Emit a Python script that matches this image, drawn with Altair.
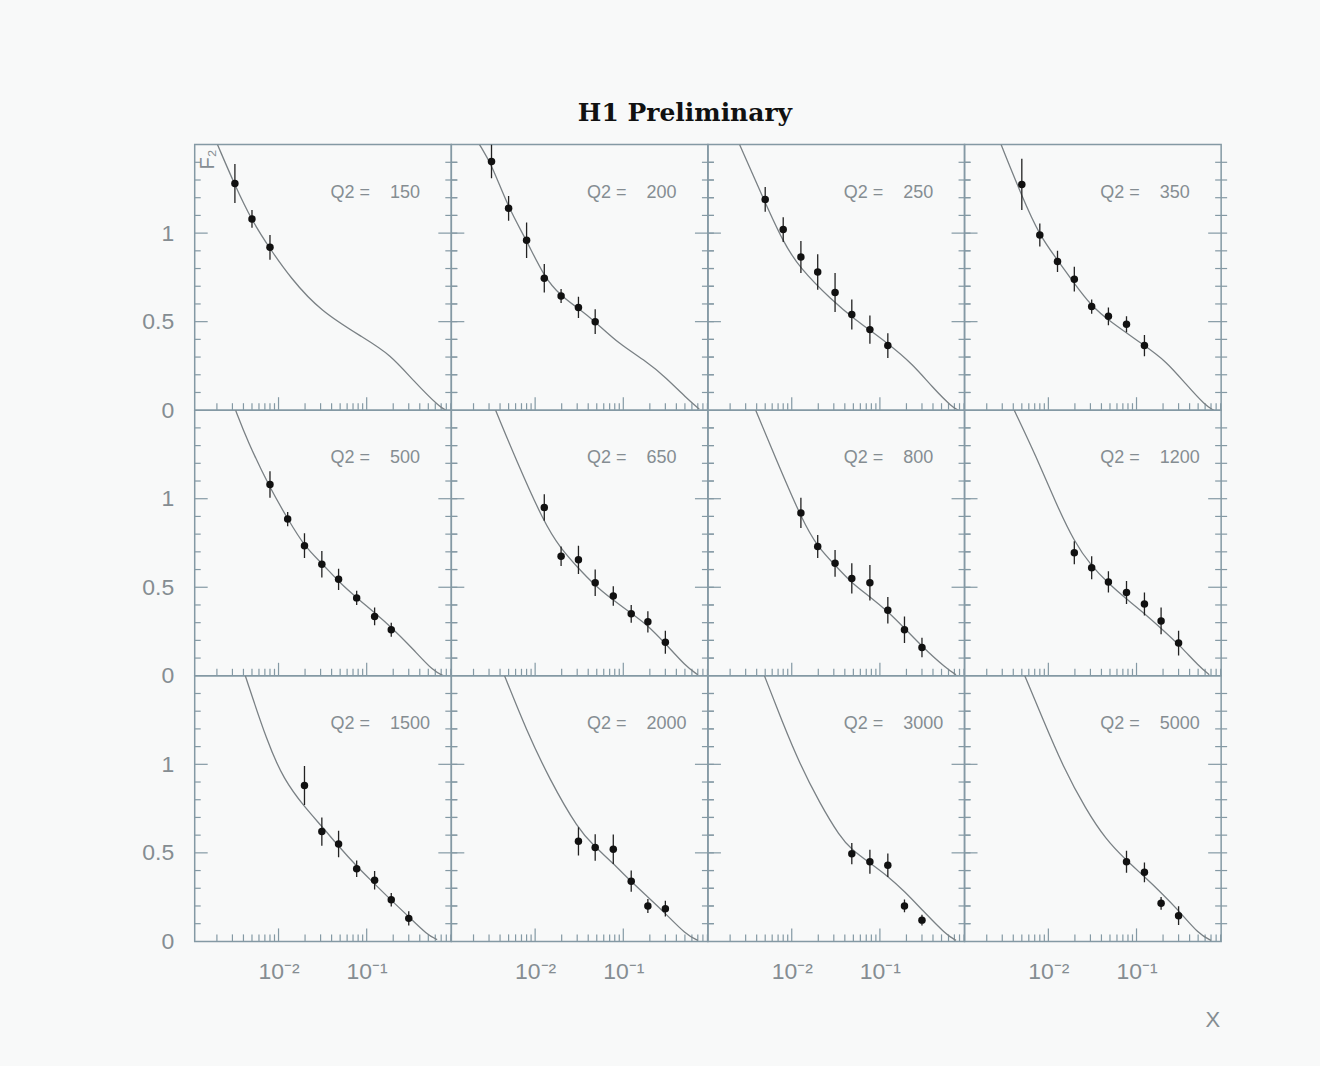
import altair as alt
import pandas as pd

# ---------------------------------------------------------------------------
# H1 preliminary F2(x) at high Q2: measured points and QCD fit curves
# ---------------------------------------------------------------------------
Q2_VALUES = [150, 200, 250, 350, 500, 650, 800, 1200, 1500, 2000, 3000, 5000]

# measured points: x, F2, total error
X_150 = [0.0032, 0.005, 0.008]
F2_150 = [1.28, 1.08, 0.92]
ERR_150 = [0.11, 0.05, 0.07]

X_200 = [0.0032, 0.005, 0.008, 0.0127, 0.0197, 0.031, 0.048]
F2_200 = [1.405, 1.14, 0.96, 0.745, 0.645, 0.58, 0.50]
ERR_200 = [0.095, 0.07, 0.10, 0.08, 0.04, 0.06, 0.07]

X_250 = [0.005, 0.008, 0.0127, 0.0197, 0.031, 0.048, 0.077, 0.123]
F2_250 = [1.19, 1.02, 0.865, 0.78, 0.665, 0.54, 0.455, 0.365]
ERR_250 = [0.07, 0.07, 0.09, 0.10, 0.11, 0.085, 0.08, 0.07]

X_350 = [0.005, 0.008, 0.0127, 0.0197, 0.031, 0.048, 0.077, 0.123]
F2_350 = [1.275, 0.99, 0.84, 0.74, 0.585, 0.53, 0.485, 0.365]
ERR_350 = [0.145, 0.065, 0.06, 0.07, 0.04, 0.05, 0.045, 0.06]

X_500 = [0.008, 0.0127, 0.0197, 0.031, 0.048, 0.077, 0.123, 0.19]
F2_500 = [1.08, 0.885, 0.735, 0.63, 0.545, 0.44, 0.335, 0.26]
ERR_500 = [0.075, 0.04, 0.07, 0.075, 0.06, 0.04, 0.05, 0.04]

X_650 = [0.0127, 0.0197, 0.031, 0.048, 0.077, 0.123, 0.19, 0.30]
F2_650 = [0.95, 0.675, 0.655, 0.525, 0.45, 0.35, 0.305, 0.19]
ERR_650 = [0.075, 0.055, 0.08, 0.075, 0.055, 0.05, 0.06, 0.065]

X_800 = [0.0127, 0.0197, 0.031, 0.048, 0.077, 0.123, 0.19, 0.30]
F2_800 = [0.92, 0.73, 0.635, 0.55, 0.525, 0.37, 0.26, 0.16]
ERR_800 = [0.085, 0.065, 0.075, 0.085, 0.10, 0.075, 0.075, 0.055]

X_1200 = [0.0197, 0.031, 0.048, 0.077, 0.123, 0.19, 0.30]
F2_1200 = [0.695, 0.61, 0.53, 0.47, 0.405, 0.31, 0.185]
ERR_1200 = [0.065, 0.065, 0.06, 0.065, 0.065, 0.075, 0.07]

X_1500 = [0.0197, 0.031, 0.048, 0.077, 0.123, 0.19, 0.30]
F2_1500 = [0.88, 0.62, 0.55, 0.41, 0.345, 0.235, 0.13]
ERR_1500 = [0.11, 0.08, 0.075, 0.047, 0.052, 0.038, 0.04]

X_2000 = [0.031, 0.048, 0.077, 0.123, 0.19, 0.30]
F2_2000 = [0.565, 0.53, 0.52, 0.34, 0.20, 0.185]
ERR_2000 = [0.08, 0.075, 0.083, 0.06, 0.04, 0.044]

X_3000 = [0.048, 0.077, 0.123, 0.19, 0.30]
F2_3000 = [0.495, 0.45, 0.43, 0.20, 0.12]
ERR_3000 = [0.06, 0.068, 0.066, 0.036, 0.03]

X_5000 = [0.077, 0.123, 0.19, 0.30]
F2_5000 = [0.45, 0.39, 0.215, 0.145]
ERR_5000 = [0.062, 0.056, 0.036, 0.053]

# QCD fit curve samples: x, F2
FIT_X_150 = [0.00203, 0.0032, 0.005, 0.0078, 0.0137, 0.030, 0.093, 0.186, 0.341, 0.685, 0.80]
FIT_F2_150 = [1.50, 1.27, 1.07, 0.92, 0.746, 0.558, 0.408, 0.314, 0.164, 0.013, 0.0]

FIT_X_200 = [0.00234, 0.0032, 0.005, 0.008, 0.0127, 0.0197, 0.031, 0.048, 0.0904, 0.181, 0.305, 0.514, 0.728]
FIT_F2_200 = [1.50, 1.39, 1.14, 0.96, 0.75, 0.645, 0.575, 0.50, 0.372, 0.278, 0.184, 0.071, 0.006]

FIT_X_250 = [0.00256, 0.005, 0.0079, 0.0122, 0.0292, 0.049, 0.128, 0.235, 0.397, 0.668, 0.78]
FIT_F2_250 = [1.50, 1.171, 0.955, 0.804, 0.616, 0.522, 0.372, 0.26, 0.128, 0.015, 0.0]

FIT_X_350 = [0.00291, 0.005, 0.008, 0.013, 0.0194, 0.031, 0.049, 0.122, 0.215, 0.363, 0.61, 0.75]
FIT_F2_350 = [1.50, 1.209, 0.983, 0.842, 0.72, 0.587, 0.504, 0.367, 0.278, 0.147, 0.024, 0.0]

FIT_X_500 = [0.00326, 0.0044, 0.008, 0.0127, 0.0197, 0.031, 0.048, 0.077, 0.19, 0.341, 0.575, 0.75]
FIT_F2_500 = [1.50, 1.331, 1.059, 0.887, 0.73, 0.636, 0.532, 0.44, 0.278, 0.147, 0.024, 0.0]

FIT_X_650 = [0.00356, 0.0061, 0.0126, 0.0194, 0.031, 0.047, 0.076, 0.122, 0.187, 0.298, 0.514, 0.70]
FIT_F2_650 = [1.50, 1.218, 0.865, 0.72, 0.607, 0.513, 0.429, 0.354, 0.288, 0.184, 0.052, 0.006]

FIT_X_800 = [0.0039, 0.0067, 0.0131, 0.0196, 0.031, 0.048, 0.077, 0.124, 0.191, 0.305, 0.562, 0.73]
FIT_F2_800 = [1.50, 1.218, 0.88, 0.729, 0.625, 0.523, 0.447, 0.362, 0.268, 0.162, 0.043, 0.006]

FIT_X_1200 = [0.0041, 0.0073, 0.0122, 0.0196, 0.031, 0.048, 0.075, 0.122, 0.189, 0.305, 0.514, 0.668]
FIT_F2_1200 = [1.50, 1.237, 0.974, 0.757, 0.617, 0.523, 0.438, 0.353, 0.269, 0.175, 0.052, 0.006]

FIT_X_1500 = [0.0042, 0.0075, 0.0115, 0.0194, 0.031, 0.048, 0.077, 0.12, 0.186, 0.298, 0.484, 0.63]
FIT_F2_1500 = [1.50, 1.121, 0.914, 0.763, 0.65, 0.537, 0.424, 0.33, 0.236, 0.141, 0.038, 0.01]

FIT_X_2000 = [0.0045, 0.0079, 0.0146, 0.031, 0.047, 0.076, 0.122, 0.187, 0.298, 0.514, 0.70]
FIT_F2_2000 = [1.50, 1.196, 0.914, 0.631, 0.537, 0.443, 0.339, 0.254, 0.16, 0.038, 0.006]

FIT_X_3000 = [0.0049, 0.0079, 0.0122, 0.0207, 0.035, 0.048, 0.077, 0.124, 0.191, 0.30, 0.562, 0.73]
FIT_F2_3000 = [1.50, 1.234, 1.008, 0.782, 0.593, 0.518, 0.443, 0.367, 0.282, 0.179, 0.038, 0.006]

FIT_X_5000 = [0.0054, 0.0087, 0.0146, 0.0267, 0.045, 0.075, 0.122, 0.189, 0.30, 0.514, 0.70]
FIT_F2_5000 = [1.50, 1.253, 0.989, 0.744, 0.575, 0.462, 0.367, 0.277, 0.175, 0.038, 0.006]

# axis ticks
Y_MINOR = [0.1, 0.2, 0.3, 0.4, 0.6, 0.7, 0.8, 0.9, 1.1, 1.2, 1.3, 1.4]
Y_MAJOR = [0.5, 1.0]
Y_LABELS = [0, 0.5, 1]
X_MINOR = [m * d for d in (0.001, 0.01, 0.1) for m in range(2, 10)]
X_MAJOR = [0.01, 0.1]
X_DOMAIN = [0.00112, 0.912]
Y_DOMAIN = [0, 1.5]

MEASURED = {
    150: (X_150, F2_150, ERR_150), 200: (X_200, F2_200, ERR_200),
    250: (X_250, F2_250, ERR_250), 350: (X_350, F2_350, ERR_350),
    500: (X_500, F2_500, ERR_500), 650: (X_650, F2_650, ERR_650),
    800: (X_800, F2_800, ERR_800), 1200: (X_1200, F2_1200, ERR_1200),
    1500: (X_1500, F2_1500, ERR_1500), 2000: (X_2000, F2_2000, ERR_2000),
    3000: (X_3000, F2_3000, ERR_3000), 5000: (X_5000, F2_5000, ERR_5000),
}
FITS = {
    150: (FIT_X_150, FIT_F2_150), 200: (FIT_X_200, FIT_F2_200),
    250: (FIT_X_250, FIT_F2_250), 350: (FIT_X_350, FIT_F2_350),
    500: (FIT_X_500, FIT_F2_500), 650: (FIT_X_650, FIT_F2_650),
    800: (FIT_X_800, FIT_F2_800), 1200: (FIT_X_1200, FIT_F2_1200),
    1500: (FIT_X_1500, FIT_F2_1500), 2000: (FIT_X_2000, FIT_F2_2000),
    3000: (FIT_X_3000, FIT_F2_3000), 5000: (FIT_X_5000, FIT_F2_5000),
}

# styling
W, H = 257, 266
BG = "#f8f9f9"
FRAME = "#8499a4"
CURVE = "#7a8185"
TEXT_GREY = "#858d92"
SANS = "Liberation Sans"
NBSP = "\u00a0"

N_ROWS, N_COLS = 3, 4


def panel(q2, row, col):
    xs = alt.Scale(type="log", domain=X_DOMAIN, nice=False)
    ys = alt.Scale(domain=Y_DOMAIN, nice=False, zero=False)
    if row == N_ROWS - 1:
        xaxis = alt.Axis(values=X_MAJOR, labelExpr="datum.value < 0.05 ? '10⁻²' : '10⁻¹'",
                         ticks=False, tickSize=0, domain=False, grid=False, title=None,
                         labelFont=SANS, labelFontSize=23, labelColor=TEXT_GREY,
                         labelPadding=19, labelFlush=False)
    else:
        xaxis = None
    if col == 0:
        yaxis = alt.Axis(values=Y_LABELS, format="~g", ticks=False, tickSize=0,
                         domain=False, grid=False, title=None, labelFont=SANS,
                         labelFontSize=23, labelColor=TEXT_GREY, labelPadding=21)
    else:
        yaxis = None

    def X(field):
        return alt.X(field, type="quantitative", scale=xs, axis=xaxis)

    def Y(field):
        return alt.Y(field, type="quantitative", scale=ys, axis=yaxis)

    xv, fv, ev = MEASURED[q2]
    pts = pd.DataFrame({"x": xv, "f2": fv,
                        "lo": [f - e for f, e in zip(fv, ev)],
                        "hi": [f + e for f, e in zip(fv, ev)]})
    fx, ff = FITS[q2]
    fit = pd.DataFrame({"x": fx, "f2": ff})

    ymin = pd.DataFrame({"v": Y_MINOR})
    ymaj = pd.DataFrame({"v": Y_MAJOR})
    xmin = pd.DataFrame({"v": [v for v in X_MINOR if X_DOMAIN[0] < v < X_DOMAIN[1]]})
    xmaj = pd.DataFrame({"v": X_MAJOR})

    label = f"Q2 ={NBSP * 4}{q2}"

    tick = dict(color=FRAME, strokeWidth=1.2)
    layers = [
        alt.Chart(ymin).mark_rule(**tick).encode(y=Y("v"), x=alt.value(0), x2=alt.value(6)),
        alt.Chart(ymaj).mark_rule(**tick).encode(y=Y("v"), x=alt.value(0), x2=alt.value(13)),
        alt.Chart(ymin).mark_rule(**tick).encode(y=Y("v"), x=alt.value(W - 6), x2=alt.value(W + 6)),
        alt.Chart(ymaj).mark_rule(**tick).encode(y=Y("v"), x=alt.value(W - 13), x2=alt.value(W + 6)),
        alt.Chart(xmin).mark_rule(**tick).encode(x=X("v"), y=alt.value(H), y2=alt.value(H - 7)),
        alt.Chart(xmaj).mark_rule(**tick).encode(x=X("v"), y=alt.value(H), y2=alt.value(H - 13)),
        alt.Chart(fit).mark_line(color=CURVE, strokeWidth=1.3, interpolate="basis", clip=True)
        .encode(x=X("x"), y=Y("f2")),
        alt.Chart(pts).mark_rule(color="#222222", strokeWidth=1.3, clip=True)
        .encode(x=X("x"), y=Y("lo"), y2="hi"),
        alt.Chart(pts).mark_circle(size=56, color="#111111", opacity=1)
        .encode(x=X("x"), y=Y("f2")),
        alt.Chart(pd.DataFrame({"t": [label]}))
        .mark_text(align="left", baseline="middle", font=SANS, fontSize=18, color=TEXT_GREY)
        .encode(text="t:N", x=alt.value(136), y=alt.value(48)),
    ]

    if row == 0 and col == 0:
        # page anchor so the grid sits at a fixed offset, plus the F2 axis title
        layers.append(alt.Chart(pd.DataFrame({"a": [0]})).mark_rule(opacity=0)
                      .encode(x=alt.value(-194), x2=alt.value(-193), y=alt.value(-143), y2=alt.value(-142)))
        layers.append(alt.Chart(pd.DataFrame({"t": ["F₂"]}))
                      .mark_text(angle=270, font=SANS, fontSize=20, color=TEXT_GREY,
                                 align="center", baseline="middle")
                      .encode(text="t:N", x=alt.value(13), y=alt.value(15)))
    if row == 0 and col == 1:
        layers.append(alt.Chart(pd.DataFrame({"t": ["H1 Preliminary"]}))
                      .mark_text(font="DejaVu Serif", fontWeight="bold", fontSize=25,
                                 color="#111111", align="center", baseline="middle")
                      .encode(text="t:N", x=alt.value(234), y=alt.value(-32)))
    if row == N_ROWS - 1 and col == N_COLS - 1:
        layers.append(alt.Chart(pd.DataFrame({"t": ["X"]}))
                      .mark_text(font=SANS, fontSize=22, color=TEXT_GREY,
                                 align="right", baseline="alphabetic")
                      .encode(text="t:N", x=alt.value(W - 1), y=alt.value(352)))
        layers.append(alt.Chart(pd.DataFrame({"a": [0]})).mark_rule(opacity=0)
                      .encode(x=alt.value(354), x2=alt.value(355), y=alt.value(390), y2=alt.value(391)))

    return alt.layer(*layers).properties(width=W, height=H)


panels = [panel(Q2_VALUES[r * N_COLS + c], r, c)
          for r in range(N_ROWS) for c in range(N_COLS)]

chart = (
    alt.concat(*panels, columns=N_COLS, spacing=0, bounds="flush")
    .properties(background=BG, padding=0)
    .configure_view(stroke=FRAME, strokeWidth=1.5)
)

chart.save("out.html", embed_options={"renderer": "svg", "actions": False})
